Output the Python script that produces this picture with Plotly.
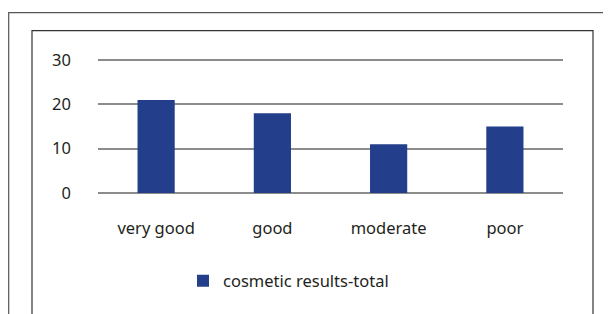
import plotly.graph_objects as go

categories = ["very good", "good", "moderate", "poor"]
values = [21, 18, 11, 15]
series_name = "cosmetic results-total"
y_ticks = [0, 10, 20, 30]

OFF = 8  # default page body margin
W, H = 611 - OFF, 314 - OFF
L, R, T, B = 98 - OFF, 563 - OFF, 60 - OFF, 193 - OFF
pad = 0.45
y_lo, y_hi = -pad, 30 + pad
upp = 30 / (B - T)
T2 = T - pad / upp
B2 = B + pad / upp

def px(x):
    return (x - OFF - L) / (R - L)

def py(y):
    return (B2 - (y - OFF)) / (B2 - T2)

fig = go.Figure()
fig.add_trace(go.Bar(x=categories, y=values, name=series_name,
                     marker=dict(color="#233E8B", line=dict(width=0)),
                     showlegend=True))

font = "Noto Sans"
fs = 16.5
fig.update_layout(
    width=W, height=H,
    margin=dict(l=L, r=W - R, t=T2, b=H - B2, pad=0),
    paper_bgcolor="white", plot_bgcolor="white",
    bargap=0.68,
    font=dict(family=font, size=fs, color="#231F20"),
    showlegend=True,
    legend=dict(orientation="h", x=px(183), y=py(281), xanchor="left", yanchor="middle",
                font=dict(size=fs, color="#231F20"), itemwidth=30),
    xaxis=dict(showgrid=False, showline=False, zeroline=False, ticks="",
               ticklabelstandoff=21, tickfont=dict(size=fs)),
    yaxis=dict(range=[y_lo, y_hi], tickvals=y_ticks, showgrid=True, gridcolor="#8C8C8C",
               gridwidth=1.5, zeroline=False, showline=False, ticks="",
               ticklabelstandoff=26, tickfont=dict(size=fs)),
    shapes=[
        dict(type="rect", xref="paper", yref="paper",
             x0=px(8.7), x1=px(640), y0=py(12.7), y1=py(340),
             line=dict(color="#555555", width=1.2), layer="below"),
        dict(type="rect", xref="paper", yref="paper",
             x0=px(32), x1=px(593), y0=py(30.7), y1=py(340),
             line=dict(color="#333333", width=1.2), layer="below"),
    ],
)
fig.write_html("out.html")
